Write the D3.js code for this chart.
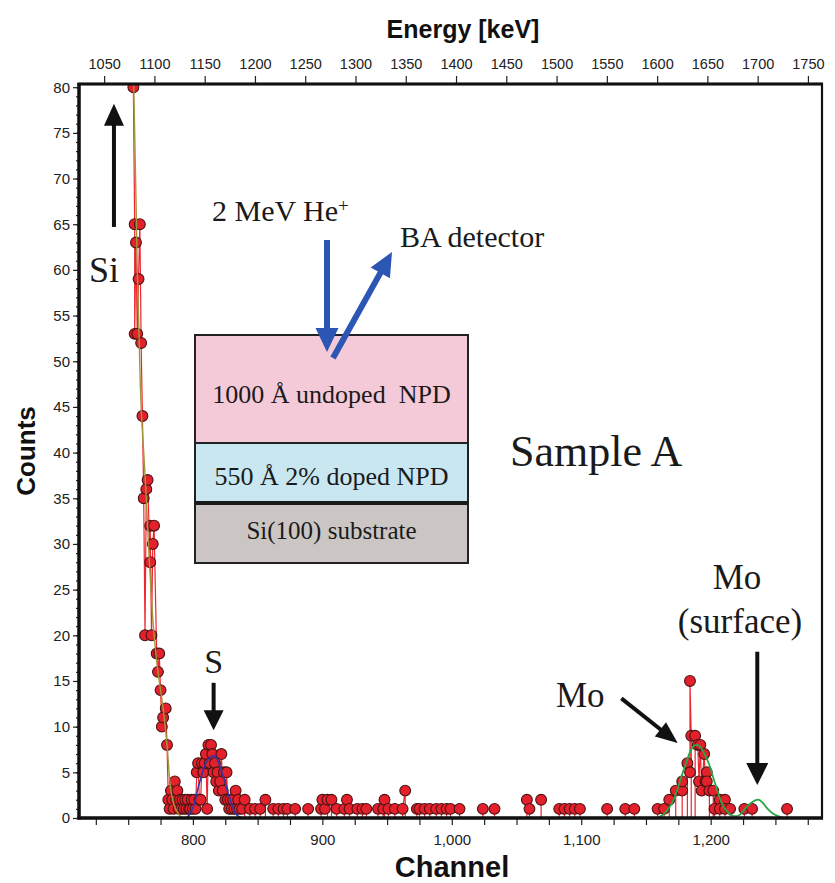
<!DOCTYPE html>
<html>
<head>
<meta charset="utf-8">
<script src="https://cdn.jsdelivr.net/npm/d3@7"></script>
<style>
  body { margin: 0; background: #fff; }
  svg text { white-space: pre; }
</style>
</head>
<body>
<svg id="chart" width="835" height="883"></svg>
<script>
// ---- RBS spectrum, Sample A ----
// measured spectrum: channel and counts, in plotting order
const channels = [
  754, 755, 755, 756, 757, 758, 759, 760, 761, 762, 763, 764, 765, 767, 767, 768, 769, 770,
  772, 773, 774, 775, 776, 777, 779, 780, 781, 782, 783, 784, 785, 786, 787, 788, 789, 790,
  791, 792, 793, 794, 795, 796, 797, 798, 799, 800, 801, 802, 803, 804, 805, 806, 807, 808,
  809, 810, 811, 812, 813, 814, 815, 816, 817, 818, 819, 820, 821, 822, 823, 824, 825, 826,
  827, 828, 829, 830, 831, 832, 833, 834, 835, 836, 838, 840, 844, 848, 852, 856, 862, 866,
  870, 873, 879, 889, 899, 900, 902, 904, 907, 911, 917, 919, 921, 927, 931, 934, 943, 947,
  948, 951, 956, 962, 964, 973, 975, 979, 983, 988, 992, 996, 999, 1006, 1024, 1033, 1058,
  1060, 1069, 1083, 1087, 1091, 1095, 1099, 1120, 1134, 1141, 1159, 1164, 1168, 1173, 1178,
  1178, 1182, 1184, 1184, 1185, 1188, 1190, 1191, 1192, 1193, 1195, 1196, 1197, 1197, 1199,
  1202, 1203, 1207, 1207, 1211, 1211, 1215, 1226, 1232, 1259
];
const counts = [
  80, 65, 53, 63, 53, 59, 65, 52, 44, 35, 20, 36, 37, 28, 32, 20, 30, 32,
  18, 16, 18, 14, 10, 11, 12, 8, 2, 1, 3, 2, 1, 4, 2, 3, 1, 2,
  1, 2, 1, 2, 1, 2, 1, 1, 2, 1, 2, 1, 5, 6, 2, 2, 6, 5,
  6, 7, 1, 8, 6, 8, 7, 5, 6, 4, 5, 3, 4, 7, 3, 5, 2, 5,
  2, 1, 2, 1, 2, 1, 3, 1, 2, 1, 1, 2, 1, 1, 1, 2, 1, 1,
  1, 1, 1, 1, 1, 2, 1, 2, 2, 1, 1, 2, 1, 1, 1, 1, 1, 1,
  2, 1, 1, 1, 3, 1, 1, 1, 1, 1, 1, 1, 1, 1, 1, 1, 2,
  1, 2, 1, 1, 1, 1, 1, 1, 1, 1, 1, 1, 2, 3, 3,
  4, 6, 5, 15, 9, 9, 8, 4, 8, 3, 7, 4, 5, 4, 3,
  3, 1, 2, 1, 2, 1, 1, 1, 1, 1
];

// simulated Si substrate edge
const siFitChannels = [752, 754, 756, 757, 758, 760, 762, 764, 766, 768, 770, 773, 775, 777, 780, 783, 786, 789, 792];
const siFitCounts   = [95, 82, 68, 60, 55, 45, 40, 35, 29, 24, 20, 16, 14, 12, 8, 3, 1.2, 0.4, 0];

// simulated S peak
const sFitChannels = [795, 798, 801, 804, 807, 810, 813, 816, 818, 821, 824, 827, 830, 833, 836, 840, 858];
const sFitCounts   = [0, 0.5, 1.5, 3.3, 4.8, 6, 6.6, 6.8, 6.6, 5.6, 4.3, 2.8, 1.5, 0.5, 0.1, 0, 0];

// simulated Mo peak (buried) and Mo at the surface
const moFitChannels = [1159, 1165, 1170, 1174, 1178, 1181, 1184, 1187, 1190, 1193, 1196, 1199, 1202, 1205,
                       1208, 1211, 1215, 1218, 1222, 1226, 1230, 1234, 1237, 1240, 1244, 1248, 1252, 1256];
const moFitCounts   = [0, 0.6, 1.6, 3, 4.8, 6, 7.2, 7.9, 8, 7.6, 6.8, 5.8, 4.4, 3.1,
                       1.8, 1, 0.4, 0.2, 0.3, 0.9, 1.5, 1.9, 2, 1.7, 1, 0.5, 0.2, 0];

// axes
const countTicks   = d3.range(0, 81, 5);
const countMinor   = d3.range(0, 81, 1);
const channelTicks = d3.range(725, 1286, 25);
const channelLabels = [800, 900, 1000, 1100, 1200];
const energyTicks  = d3.range(1050, 1751, 50);

const SANS = "'Liberation Sans', Arial, Helvetica, sans-serif";
const SERIF = "'Liberation Serif', 'Times New Roman', Times, serif";

const svg = d3.select("#chart");
const L = 79, R = 822, T = 84, B = 818;

const x = d3.scaleLinear().domain([712, 1286]).range([L, R]);
const y = d3.scaleLinear().domain([0, 80.35]).range([B, T]);
const xE = d3.scaleLinear().domain([1025, 1764]).range([L, R]);

svg.append("defs").append("clipPath").attr("id", "plot")
  .append("rect").attr("x", L).attr("y", T).attr("width", R - L).attr("height", B - T);

// ---- data ----
const pts = channels.map((c, i) => ({ c, v: counts[i] }));

// connect neighbouring channels; isolated counts drop back to the baseline
const linePts = [];
pts.forEach((p, i) => {
  if (i > 0 && p.c - pts[i - 1].c > 2) {
    linePts.push({ c: pts[i - 1].c, v: 0 }, { c: p.c, v: 0 });
  }
  linePts.push(p);
});
linePts.push({ c: pts[pts.length - 1].c, v: 0 });

const plot = svg.append("g").attr("clip-path", "url(#plot)");

plot.append("path")
  .attr("d", d3.line().x(d => x(d.c)).y(d => y(d.v))(linePts))
  .attr("fill", "none").attr("stroke", "#ee2630").attr("stroke-width", 1.2);

plot.selectAll("circle.pt").data(pts).join("circle")
  .attr("class", "pt")
  .attr("cx", d => x(d.c)).attr("cy", d => y(d.v)).attr("r", 5.4)
  .attr("fill", "#e3202b").attr("stroke", "#4a1414").attr("stroke-width", 1.1);

const fitLine = d3.line().x(d => x(d[0])).y(d => y(d[1])).curve(d3.curveCatmullRom);
plot.append("path")
  .attr("d", fitLine(siFitChannels.map((c, i) => [c, siFitCounts[i]])))
  .attr("fill", "none").attr("stroke", "#9c9a3a").attr("stroke-width", 1.4);
plot.append("path")
  .attr("d", fitLine(sFitChannels.map((c, i) => [c, sFitCounts[i]])))
  .attr("fill", "none").attr("stroke", "#3536a8").attr("stroke-width", 1.6);
plot.append("path")
  .attr("d", fitLine(moFitChannels.map((c, i) => [c, moFitCounts[i]])))
  .attr("fill", "none").attr("stroke", "#27a845").attr("stroke-width", 1.8);

// ---- axes ----
function styleAxis(g, size) {
  g.select(".domain").remove();
  g.selectAll(".tick line").attr("stroke", "#222").attr("stroke-width", 1.2);
  g.selectAll(".tick text").attr("fill", "#222").style("font-family", SANS).style("font-size", size + "px");
}

svg.append("g").attr("transform", `translate(${L},0)`)
  .call(d3.axisLeft(y).tickValues(countMinor).tickSize(3).tickFormat(""))
  .call(g => styleAxis(g, 13));
svg.append("g").attr("transform", `translate(${L},0)`)
  .call(d3.axisLeft(y).tickValues(countTicks).tickSize(6).tickPadding(3))
  .call(g => styleAxis(g, 15));

svg.append("g").attr("transform", `translate(0,${B})`)
  .call(d3.axisBottom(x).tickValues(channelTicks).tickSize(7).tickPadding(9)
    .tickFormat(d => channelLabels.includes(d) ? d3.format(",")(d) : ""))
  .call(g => styleAxis(g, 15));

svg.append("g").attr("transform", `translate(0,${T})`)
  .call(d3.axisTop(xE).tickValues(energyTicks).tickSize(8).tickPadding(7).tickFormat(d3.format("d")))
  .call(g => styleAxis(g, 14.5));

// frame
svg.append("rect").attr("x", L).attr("y", T).attr("width", R - L).attr("height", B - T)
  .attr("fill", "none").attr("stroke", "#111").attr("stroke-width", 2.2);
svg.append("line").attr("x1", L).attr("x2", L).attr("y1", T - 1).attr("y2", B + 1.5)
  .attr("stroke", "#111").attr("stroke-width", 3.5);
svg.append("line").attr("x1", L - 1.5).attr("x2", R + 1).attr("y1", B).attr("y2", B)
  .attr("stroke", "#111").attr("stroke-width", 3.5);
svg.append("line").attr("x1", L - 1.5).attr("x2", R + 1).attr("y1", T).attr("y2", T)
  .attr("stroke", "#111").attr("stroke-width", 3);

// axis titles
svg.append("text").attr("x", 463).attr("y", 38).attr("text-anchor", "middle")
  .style("font-family", SANS).style("font-weight", "bold").style("font-size", "25px")
  .attr("fill", "#111").text("Energy [keV]");
svg.append("text").attr("transform", "translate(35,451) rotate(-90)").attr("text-anchor", "middle")
  .style("font-family", SANS).style("font-weight", "bold").style("font-size", "26px")
  .attr("fill", "#111").text("Counts");
svg.append("text").attr("x", 452).attr("y", 877).attr("text-anchor", "middle")
  .style("font-family", SANS).style("font-weight", "bold").style("font-size", "29px")
  .attr("fill", "#111").text("Channel");

// ---- annotations ----
function arrow(x1, y1, x2, y2, o) {
  const dx = x2 - x1, dy = y2 - y1, len = Math.hypot(dx, dy);
  const ux = dx / len, uy = dy / len, nx = -uy, ny = ux;
  const bx = x2 - ux * o.head, by = y2 - uy * o.head;
  svg.append("line").attr("x1", x1).attr("y1", y1).attr("x2", bx + ux).attr("y2", by + uy)
    .attr("stroke", o.color).attr("stroke-width", o.shaft);
  svg.append("polygon")
    .attr("points", [[x2, y2], [bx + nx * o.width / 2, by + ny * o.width / 2], [bx - nx * o.width / 2, by - ny * o.width / 2]].join(" "))
    .attr("fill", o.color);
}
const black = { color: "#111", shaft: 4, head: 22, width: 20 };

function label(t, px, py, size, anchor) {
  return svg.append("text").attr("x", px).attr("y", py).attr("text-anchor", anchor || "start")
    .style("font-family", SERIF).style("font-size", size + "px").attr("fill", "#1a1a1a").text(t);
}

// Si edge
arrow(x(739), y(64.7), x(739), y(78.2), black);
label("Si", 89, 282, 36);

// S peak
arrow(x(816), y(14.8), x(816), y(9.6), { color: "#111", shaft: 4, head: 20, width: 20 });
label("S", x(816), 673, 34, "middle");

// Mo peaks
arrow(x(1131), y(13.1), x(1174.5), y(8.2), { color: "#111", shaft: 4, head: 22, width: 18 });
label("Mo", 556, 707, 35);
arrow(x(1236), y(18.2), x(1236), y(3.6), { color: "#111", shaft: 4, head: 22, width: 22 });
label("Mo", 737, 589, 35, "middle");
label("(surface)", 740, 633, 35, "middle");

label("Sample A", 510, 466, 44);

// ---- sample stack inset ----
const layers = [
  { top: 335, bottom: 443, fill: "#f4c9d8", text: "1000 Å undoped  NPD", base: 403, size: 26 },
  { top: 443, bottom: 503, fill: "#c8e7f1", text: "550 Å 2% doped NPD", base: 485, size: 26 },
  { top: 503, bottom: 563, fill: "#cbc6c4", text: "Si(100) substrate", base: 539, size: 25 }
];
const iL = 195, iR = 468;
layers.forEach(l => {
  svg.append("rect").attr("x", iL).attr("y", l.top).attr("width", iR - iL).attr("height", l.bottom - l.top)
    .attr("fill", l.fill).attr("stroke", "#222").attr("stroke-width", 2);
  label(l.text, (iL + iR) / 2, l.base, l.size, "middle");
});
svg.append("line").attr("x1", iL).attr("x2", iR).attr("y1", 503).attr("y2", 503)
  .attr("stroke", "#1a1a1a").attr("stroke-width", 4);

const blue = { color: "#2b56b4", shaft: 6, head: 24, width: 23 };
arrow(327, 240, 327, 352, blue);
arrow(333, 358, 392, 252, { color: "#2b56b4", shaft: 6, head: 24, width: 22 });

const he = label("2 MeV He", 212, 221, 30);
he.append("tspan").attr("dy", -9).style("font-size", "19px").text("+");
label("BA detector", 400, 247, 30);
</script>
</body>
</html>
